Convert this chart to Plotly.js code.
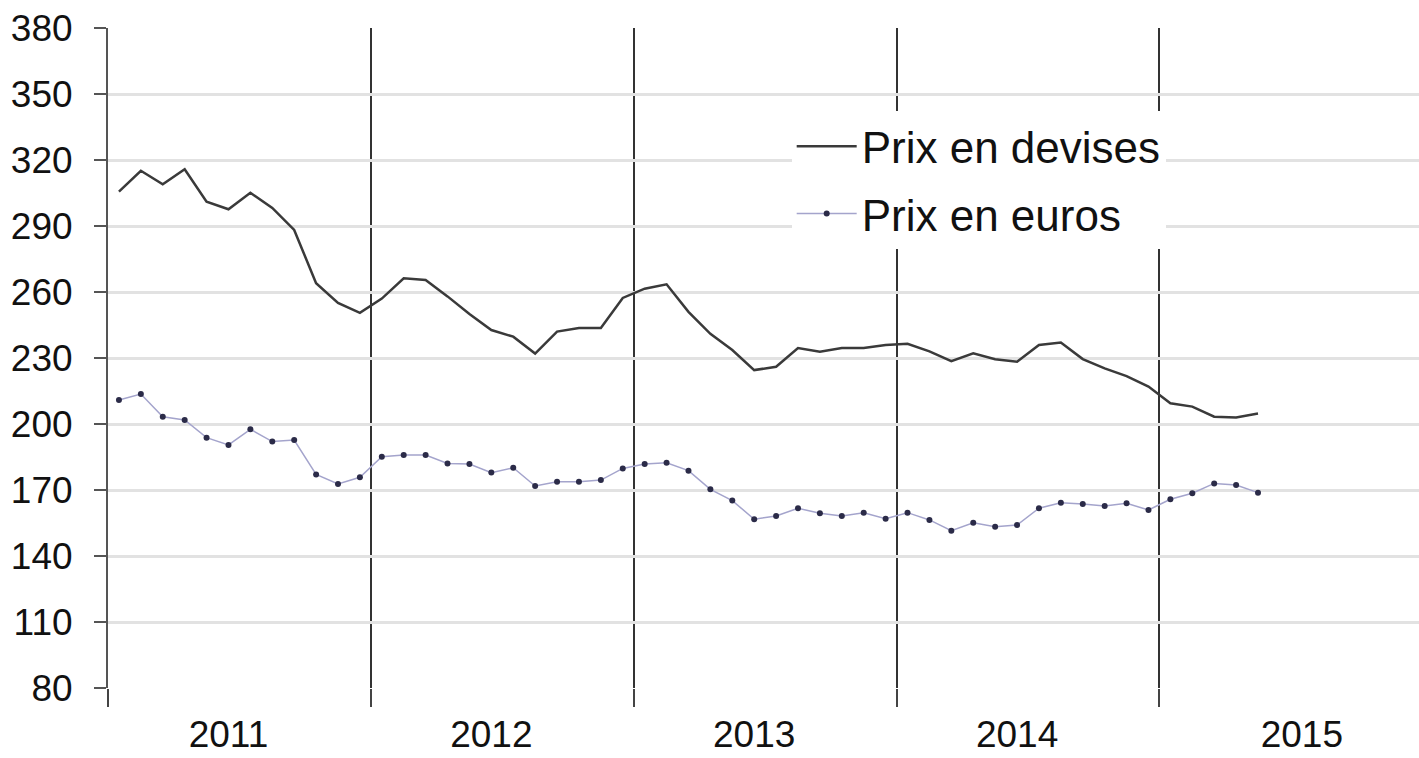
<!DOCTYPE html>
<html>
<head>
<meta charset="utf-8">
<script src="https://cdn.plot.ly/plotly-3.0.1.min.js"></script>
<style>
html,body{margin:0;padding:0;background:#fff;}
#chart{width:1419px;height:758px;}
</style>
</head>
<body>
<div id="chart"></div>
<script>
// Monthly index: 0 = Jan 2011 ... 52 = May 2015
const months = Array.from({length: 53}, (_, i) => i);

const prixDevises = [
  305.6, 315.1, 309.0, 315.8, 301.0, 297.6, 305.1, 298.2, 288.2, 264.0, 255.0, 250.5,
  257.0, 266.2, 265.5, 258.0, 250.0, 242.7, 239.7, 232.0, 242.0, 243.6, 243.6, 257.3,
  261.5, 263.5, 251.0, 241.0, 233.6, 224.5, 226.0, 234.5, 232.9, 234.5, 234.5, 235.9,
  236.5, 233.0, 228.6, 232.1, 229.4, 228.3, 235.9, 237.0, 229.5, 225.3, 221.8, 217.0,
  209.4, 207.9, 203.3, 203.0, 204.8
];

const prixEuros = [
  210.9, 213.6, 203.3, 201.8, 193.8, 190.5, 197.6, 192.0, 192.7, 177.1, 172.7, 175.8,
  185.1, 185.9, 185.9, 182.1, 181.8, 177.9, 180.1, 171.8, 173.8, 173.8, 174.5, 179.8,
  181.8, 182.4, 178.8, 170.3, 165.2, 156.7, 158.2, 161.7, 159.4, 158.2, 159.7, 156.9,
  159.7, 156.4, 151.5, 155.1, 153.3, 154.1, 161.7, 164.2, 163.6, 162.7, 164.0, 160.9,
  165.8, 168.5, 173.0, 172.3, 168.8
];

const yearLabels = ['2011', '2012', '2013', '2014', '2015'];
const yearLabelPos = [5, 17, 29, 41, 54];
const yTicks = [80, 110, 140, 170, 200, 230, 260, 290, 320, 350, 380];

const traces = [
  {
    x: months, y: prixDevises, name: 'Prix en devises', type: 'scatter', mode: 'lines',
    line: {color: '#3a3a3a', width: 2.5}, legendgroup: 'a'
  },
  {
    x: months, y: prixEuros, name: 'Prix en euros', type: 'scatter', mode: 'lines+markers',
    line: {color: '#a4a4cc', width: 1.5},
    marker: {color: '#2b2b48', size: 6}, legendgroup: 'b'
  }
];

const layout = {
  width: 1419, height: 758,
  margin: {l: 108, r: 0, t: 28, b: 70},
  paper_bgcolor: '#fff', plot_bgcolor: '#fff',
  font: {family: 'Liberation Sans, Arial, sans-serif', color: '#111'},
  showlegend: true,
  legend: {
    x: 0.5215, y: 0.874, xanchor: 'left', yanchor: 'top',
    bgcolor: '#fff', borderwidth: 0,
    font: {size: 44, color: '#111'},
    itemwidth: 60,
    tracegroupgap: 7
  },
  xaxis: {
    range: [-0.5, 59.35],
    tickmode: 'array', tickvals: yearLabelPos, ticktext: yearLabels,
    ticks: '', showgrid: false, zeroline: false, showline: false,
    ticklabelstandoff: 21,
    tickfont: {size: 37, color: '#111'},
    minor: {
      tick0: -0.5, dtick: 12, showgrid: true, gridcolor: '#333', gridwidth: 2,
      ticks: 'outside', ticklen: 18, tickcolor: '#444', tickwidth: 2
    }
  },
  yaxis: {
    range: [80, 380],
    tickmode: 'array', tickvals: yTicks,
    showgrid: true, gridcolor: '#e2e2e2', gridwidth: 3,
    zeroline: false, showline: true, linecolor: '#555', linewidth: 2,
    ticks: 'outside', ticklen: 12, tickcolor: '#555', tickwidth: 2,
    ticklabelstandoff: 14,
    tickfont: {size: 37, color: '#111'}
  }
};

Plotly.newPlot('chart', traces, layout, {displayModeBar: false, staticPlot: true});
</script>
</body>
</html>
